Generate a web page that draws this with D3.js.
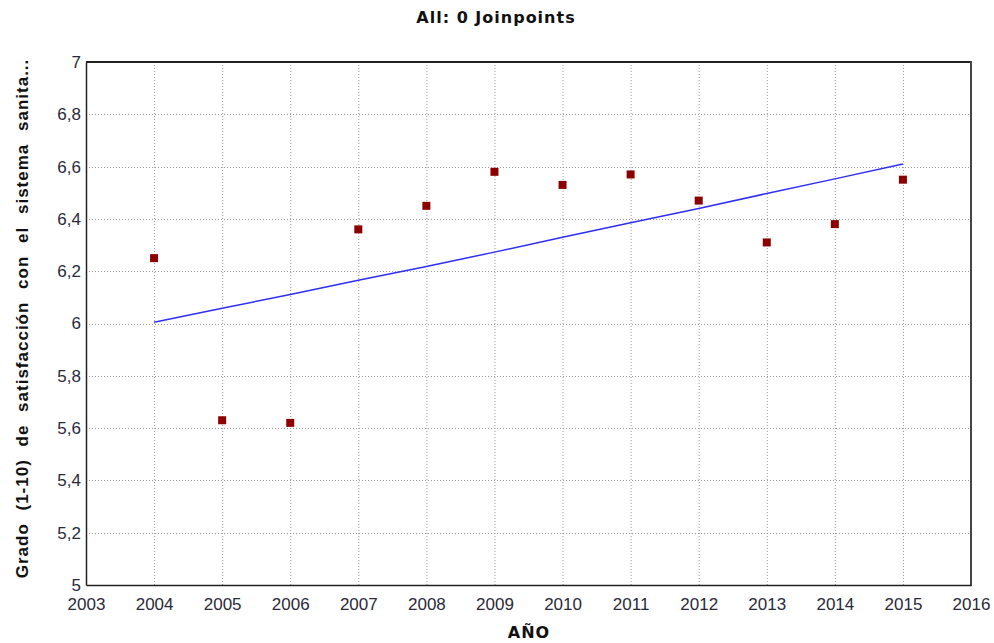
<!DOCTYPE html>
<html><head><meta charset="utf-8">
<script src="https://cdn.jsdelivr.net/npm/d3@7"></script>
<style>body{margin:0;background:#fff}svg{display:block}</style>
</head><body>
<svg id="c" width="994" height="643"></svg>
<script>
const years = [2004,2005,2006,2007,2008,2009,2010,2011,2012,2013,2014,2015];
const observed = [6.25,5.63,5.62,6.36,6.45,6.58,6.53,6.57,6.47,6.31,6.38,6.55];
const fitted = [6.005,6.058,6.111,6.165,6.218,6.273,6.330,6.385,6.440,6.497,6.553,6.610];
const xTicks = [2003,2004,2005,2006,2007,2008,2009,2010,2011,2012,2013,2014,2015,2016];
const yTicks = [5,5.2,5.4,5.6,5.8,6,6.2,6.4,6.6,6.8,7];
const title = "All: 0 Joinpoints";
const xTitle = "AÑO";
const yTitle = "Grado (1-10) de satisfacción con el sistema sanita...";

const svg = d3.select("#c");
const L=86, R=971, T=62, B=585;
const x = d3.scaleLinear().domain([2003,2016]).range([L,R]);
const y = d3.scaleLinear().domain([5,7]).range([B,T]);
const fmt = d => String(d).replace(".", ",");

// grid
const g = svg.append("g");
g.selectAll(".vg").data(xTicks.slice(1,-1)).join("line")
  .attr("x1",d=>x(d)+0.5).attr("x2",d=>x(d)+0.5).attr("y1",T).attr("y2",B)
  .attr("stroke","#999").attr("stroke-dasharray","1,2").attr("stroke-width",1);
g.selectAll(".hg").data(yTicks.slice(1,-1)).join("line")
  .attr("y1",d=>Math.round(y(d))+0.5).attr("y2",d=>Math.round(y(d))+0.5).attr("x1",L).attr("x2",R)
  .attr("stroke","#999").attr("stroke-dasharray","1,2").attr("stroke-width",1);

// frame
svg.append("line").attr("x1",L).attr("x2",R).attr("y1",T).attr("y2",T).attr("stroke","#222").attr("stroke-width",2);
svg.append("line").attr("x1",R).attr("x2",R).attr("y1",T-1).attr("y2",B+1).attr("stroke","#444").attr("stroke-width",2);

// axes
const xa = svg.append("g").attr("transform",`translate(0,${B})`)
  .call(d3.axisBottom(x).tickValues(xTicks).tickFormat(d3.format("d")).tickSize(0).tickPadding(13));
const ya = svg.append("g").attr("transform",`translate(${L},0)`)
  .call(d3.axisLeft(y).tickValues(yTicks).tickFormat(fmt).tickSize(0).tickPadding(5));
[xa,ya].forEach(a=>{
  a.select(".domain").attr("stroke","#222").attr("stroke-width",1.5);
  a.selectAll("text").attr("font-family","Liberation Sans, Arial, sans-serif").attr("font-size",17).attr("fill","#2a2a3a");
});

// fitted line
svg.append("path").datum(years.map((d,i)=>[d,fitted[i]]))
  .attr("d", d3.line().x(d=>x(d[0])).y(d=>y(d[1])))
  .attr("fill","none").attr("stroke","#2e2ef5").attr("stroke-width",1.5);

// observed points
svg.selectAll(".pt").data(years.map((d,i)=>[d,observed[i]])).join("rect")
  .attr("x",d=>x(d[0])-4).attr("y",d=>y(d[1])-4).attr("width",8).attr("height",8)
  .attr("fill","#8b0000");

// titles
svg.append("text").attr("x",496).attr("y",23).attr("text-anchor","middle")
  .attr("font-family","DejaVu Sans, Verdana, sans-serif")
  .attr("font-weight","bold").attr("font-size",16).attr("letter-spacing",1).attr("fill","#111").text(title);
svg.append("text").attr("x",529).attr("y",638).attr("text-anchor","middle")
  .attr("font-family","DejaVu Sans, Verdana, sans-serif").attr("font-weight","bold")
  .attr("font-size",16).attr("letter-spacing",1).attr("fill","#111").text(xTitle);
svg.append("text").attr("transform",`translate(28,${(59+578)/2}) rotate(-90)`).attr("text-anchor","middle")
  .attr("font-family","Liberation Sans, Arial, sans-serif").attr("font-weight","bold")
  .attr("font-size",17).attr("letter-spacing",1).attr("word-spacing",7).attr("fill","#111").text(yTitle);
</script>
</body></html>
